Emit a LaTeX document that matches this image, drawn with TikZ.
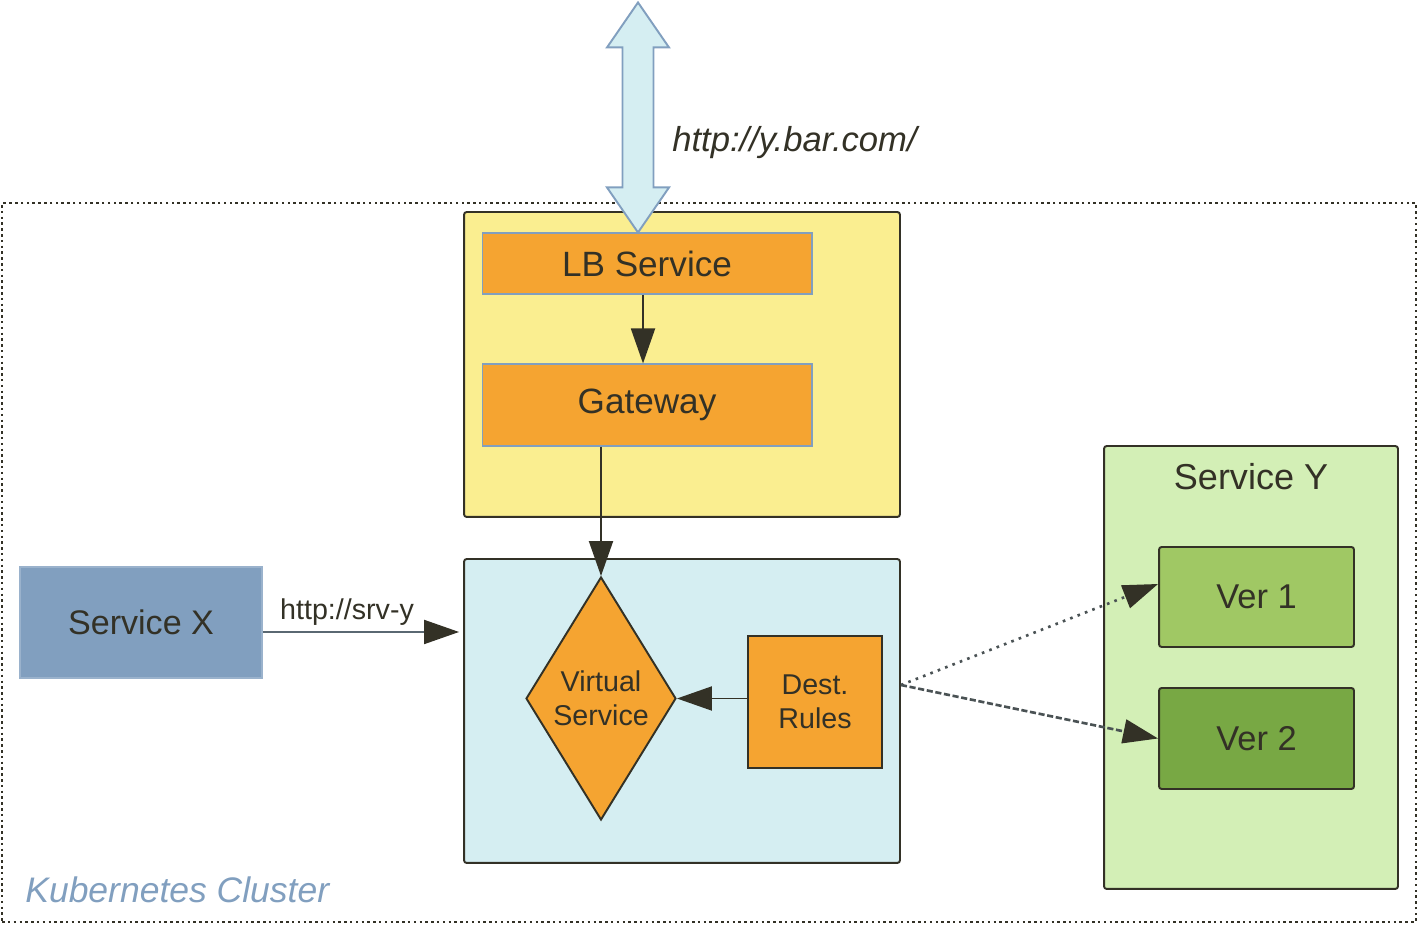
\documentclass[tikz,border=0pt]{standalone}
\usepackage{fontspec}
\setmainfont{Liberation Sans}
\usetikzlibrary{shapes,arrows.meta,positioning}

\definecolor{darkline}{RGB}{51,49,38}
\definecolor{steel}{RGB}{129,159,191}
\definecolor{boxorange}{RGB}{245,164,49}
\definecolor{gateyellow}{RGB}{250,238,144}
\definecolor{routeblue}{RGB}{213,238,242}
\definecolor{svcgreen}{RGB}{211,239,182}
\definecolor{vergreen}{RGB}{160,200,100}
\definecolor{verdark}{RGB}{120,168,68}

\begin{document}
\begin{tikzpicture}[x=0.02cm, y=0.02cm, text=darkline,
    container/.style={draw=darkline, line width=1.1pt, rounded corners=1.5pt, inner sep=0pt},
    block/.style={fill=boxorange, draw=steel, line width=0.6pt, inner sep=0pt, font=\fontsize{20}{24}\selectfont},
    flow/.style={draw=darkline, line width=1.1pt, -{Triangle[length=0.7cm, width=0.48cm, color=darkline]}},
    small/.style={font=\fontsize{16.3}{19.5}\selectfont, align=center}]
  \useasboundingbox (0,0) rectangle (1419,925);

  % Cluster
  \node[draw=darkline, line width=1.4pt, dash pattern=on 1.4pt off 1.9pt, minimum width=28.28cm, minimum height=14.38cm] (cluster) at (709,362.5) {};
  \node[anchor=base west, text=steel, font=\fontsize{20.2}{24}\selectfont\itshape, inner sep=0pt] (clusterlbl) at (25,22) {Kubernetes Cluster};

  % Ingress
  \node[container, fill=gateyellow, minimum width=8.72cm, minimum height=6.1cm] (gwbox) at (682,560.5) {};
  \node[block, minimum width=6.6cm, minimum height=1.22cm] (lb) at (647,661.5) {LB Service};
  \node[block, minimum width=6.6cm, minimum height=1.64cm] (gw) at (647,520) {Gateway};
  \draw[flow] ([xshift=-0.08cm]lb.south) -- ([xshift=-0.08cm]gw.north);

  % External traffic
  \draw[draw=steel, fill=routeblue, line width=1.1pt] ([xshift=-0.18cm]lb.north) -- ++(31,45) -- ++(-15.5,0) -- ++(0,140) -- ++(15.5,0) -- ++(-31,45) -- ++(-31,-45) -- ++(15.5,0) -- ++(0,-140) -- ++(-15.5,0) -- cycle;
  \node[anchor=base west, font=\fontsize{19.7}{24}\selectfont\itshape, inner sep=0pt] (url) at (672,773) {http://y.bar.com/};

  % Routing
  \node[container, fill=routeblue, minimum width=8.72cm, minimum height=6.08cm] (vsbox) at (682,214) {};
  \node[diamond, draw=darkline, line width=1.1pt, fill=boxorange, aspect=0.62, inner sep=0pt, minimum width=3cm, minimum height=4.86cm, small] (vs) at (601,226.5) {Virtual\\Service};
  \node[draw=darkline, line width=1.1pt, fill=boxorange, inner sep=0pt, minimum width=2.68cm, minimum height=2.64cm, small] (dr) at (815,223) {Dest.\\Rules};
  \draw[flow] (gw.south -| vs.north) -- (vs.north);
  \draw[flow] (vs.east -| dr.west) -- (vs.east);

  % Caller
  \node[fill=steel, draw=steel!80!white, line width=0.6pt, minimum width=4.84cm, minimum height=2.22cm, font=\fontsize{19.4}{24}\selectfont] (sx) at (141,302.5) {Service X};
  \draw[flow, draw=steel!50!darkline] ([yshift=-0.19cm]sx.east) -- ([yshift=-0.19cm, xshift=-0.08cm]sx.east -| vsbox.west) node[pos=0.43, above, small] {http://srv-y};

  % Target service
  \node[container, fill=svcgreen, minimum width=5.88cm, minimum height=8.86cm] (sybox) at (1251,257.5) {};
  \node[anchor=base, font=\fontsize{20.5}{24}\selectfont, inner sep=0pt] (sylbl) at (1251,435) {Service Y};
  \node[container, fill=vergreen, minimum width=3.9cm, minimum height=2cm, font=\fontsize{19.6}{22}\selectfont] (v1) at (1256.5,328) {Ver 1};
  \node[container, fill=verdark, minimum width=3.9cm, minimum height=2.02cm, font=\fontsize{19.6}{22}\selectfont] (v2) at (1256.5,186.5) {Ver 2};

  \coordinate (fork) at ([yshift=0.52cm]vsbox.east);
  \draw[flow, line width=1.5pt, dash pattern=on 1.5pt off 3pt, draw=darkline!70!steel] (fork) -- ([yshift=0.26cm]v1.west);
  \draw[flow, line width=1.5pt, dash pattern=on 3.5pt off 1.5pt, draw=darkline!70!steel] (fork) -- (v2.west);
\end{tikzpicture}
\end{document}
